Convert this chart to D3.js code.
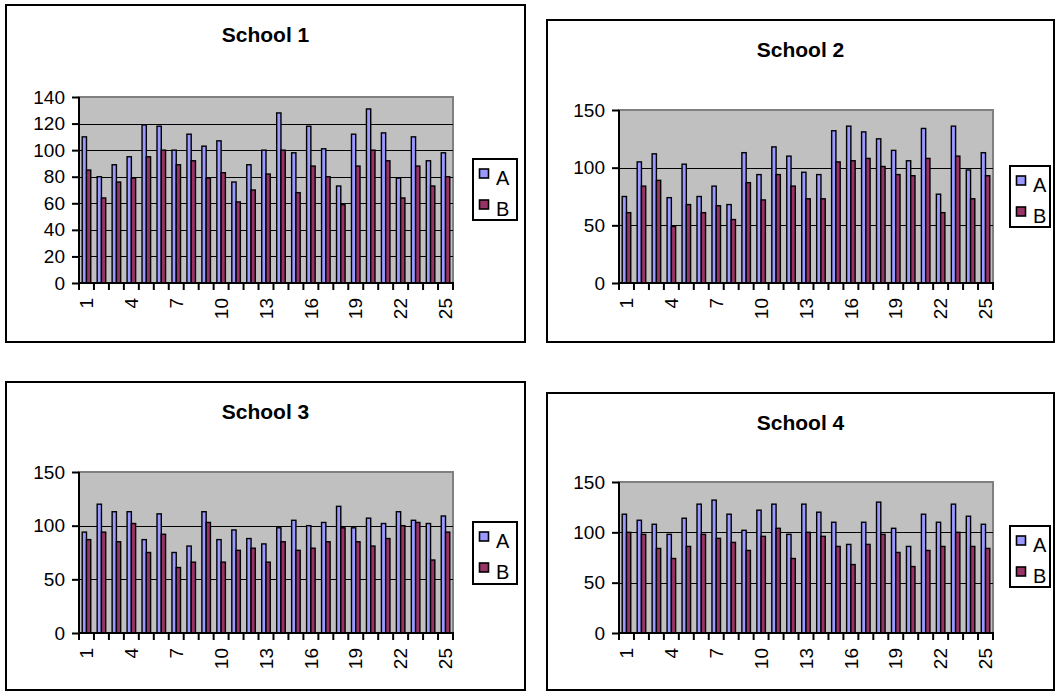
<!DOCTYPE html>
<html>
<head>
<meta charset="utf-8">
<script src="https://cdn.jsdelivr.net/npm/d3@7"></script>
<style>
  html, body { margin: 0; padding: 0; background: #fff; }
  svg { display: block; }
  text { font-family: Arial, "Liberation Sans", sans-serif; }
</style>
</head>
<body>
<svg id="chart" width="1057" height="692"></svg>
<script>
// ---- DATA ----
const categories = ["1","2","3","4","5","6","7","8","9","10","11","12","13","14","15","16","17","18","19","20","21","22","23","24","25"];
const seriesNames = ["A", "B"];
const schoolTitles = ["School 1", "School 2", "School 3", "School 4"];

const school1A = [110,80,89,95,119,118,100,112,103,107,76,89,100,128,98,118,101,73,112,131,113,79,110,92,98];
const school1B = [85,64,76,79,95,100,89,92,79,83,61,70,82,100,68,88,80,59,88,100,92,64,88,73,80];
const school2A = [75,105,112,74,103,75,84,68,113,94,118,110,96,94,132,136,131,125,115,106,134,77,136,98,113];
const school2B = [61,84,89,49,68,61,67,55,87,72,94,84,73,73,105,106,108,101,94,93,108,61,110,73,93];
const school3A = [94,120,113,113,87,111,75,81,113,87,96,88,83,98,105,100,103,118,98,107,102,113,105,102,109];
const school3B = [87,94,85,102,75,92,61,66,103,66,77,79,66,85,77,79,85,98,85,81,88,100,103,68,94];
const school4A = [118,112,108,98,114,128,132,118,102,122,128,98,128,120,110,88,110,130,104,86,118,110,128,116,108];
const school4B = [100,98,84,74,86,98,94,90,82,96,104,74,100,96,86,68,88,98,80,66,82,86,100,86,84];

const yTicks1 = [0,20,40,60,80,100,120,140];
const yTicks234 = [0,50,100,150];
const xTickLabels = ["1","4","7","10","13","16","19","22","25"];

const seriesColors = ["#9999FF", "#993366"];

// ---- LAYOUT ----
const layouts = [
  { box:[6,5,525,342],    plot:[79,97,453,283],   legend:[473,159,517,220], titleY:42 },
  { box:[547,20,1054,342], plot:[619,110,993,283], legend:[1010,166,1050,227], titleY:57 },
  { box:[6,382,525,690],  plot:[79,472,453,633],  legend:[473,522,517,584], titleY:419 },
  { box:[547,393,1054,690], plot:[619,482,993,633], legend:[1010,526,1050,587], titleY:430 }
];
const dataSets = [
  [school1A, school1B, yTicks1],
  [school2A, school2B, yTicks234],
  [school3A, school3B, yTicks234],
  [school4A, school4B, yTicks234]
];

const svg = d3.select("#chart");
const FONT = 19;

layouts.forEach((L, k) => {
  const [aVals, bVals, yTicks] = dataSets[k];
  const g = svg.append("g");
  const [bx0, by0, bx1, by1] = L.box;
  const [px0, py0, px1, py1] = L.plot;

  // chart box
  g.append("rect").attr("x", bx0).attr("y", by0)
    .attr("width", bx1 - bx0).attr("height", by1 - by0)
    .attr("fill", "#fff").attr("stroke", "#000").attr("stroke-width", 2);

  // title
  g.append("text").attr("x", (bx0 + bx1) / 2).attr("y", L.titleY)
    .attr("text-anchor", "middle").attr("font-weight", "bold")
    .attr("font-size", 21).text(schoolTitles[k]);

  const x = d3.scaleBand().domain(categories).range([px0, px1])
    .paddingInner(0.4286).paddingOuter(0.2143);
  const x1 = d3.scaleBand().domain(seriesNames).range([0, x.bandwidth()]);
  const y = d3.scaleLinear().domain([0, d3.max(yTicks)]).range([py1, py0]);

  // plot area background
  g.append("rect").attr("x", px0).attr("y", py0)
    .attr("width", px1 - px0).attr("height", py1 - py0)
    .attr("fill", "#C0C0C0").attr("stroke", "#808080").attr("stroke-width", 2);

  // gridlines
  g.append("g").selectAll("line").data(yTicks.filter(t => t > 0 && t < d3.max(yTicks)))
    .join("line")
    .attr("x1", px0).attr("x2", px1)
    .attr("y1", d => Math.round(y(d)) + 0.5).attr("y2", d => Math.round(y(d)) + 0.5)
    .attr("stroke", "#000").attr("stroke-width", 1);

  // bars
  const rows = categories.map((c, i) => ({ cat: c, vals: [aVals[i], bVals[i]] }));
  const grp = g.append("g").selectAll("g").data(rows).join("g")
    .attr("transform", d => `translate(${x(d.cat)},0)`);
  grp.selectAll("rect").data(d => d.vals.map((v, j) => ({ s: seriesNames[j], v, j })))
    .join("rect")
    .attr("x", d => x1(d.s))
    .attr("y", d => y(d.v))
    .attr("width", x1.bandwidth())
    .attr("height", d => y(0) - y(d.v))
    .attr("fill", d => seriesColors[d.j])
    .attr("stroke", "#000").attr("stroke-width", 1.4);

  // y axis
  const yAxis = d3.axisLeft(y).tickValues(yTicks).tickSize(7).tickPadding(7);
  const ya = g.append("g").attr("transform", `translate(${px0},0)`).call(yAxis);
  ya.select(".domain").attr("stroke", "#000").attr("stroke-width", 2)
    .attr("d", `M0,${py0}V${py1}`);
  ya.selectAll(".tick line").attr("stroke", "#000").attr("stroke-width", 2);
  ya.selectAll(".tick text").attr("font-size", FONT).attr("fill", "#000")
    .style("font-family", "Arial, 'Liberation Sans', sans-serif");

  // x axis: ticks between categories
  const step = x.step();
  const boundaries = d3.range(categories.length + 1).map(i => px0 + i * step);
  g.append("g").selectAll("line").data(boundaries).join("line")
    .attr("x1", d => d).attr("x2", d => d)
    .attr("y1", py1).attr("y2", py1 + 7)
    .attr("stroke", "#000").attr("stroke-width", 2);
  g.append("line").attr("x1", px0 - 1).attr("x2", px1 + 1)
    .attr("y1", py1).attr("y2", py1)
    .attr("stroke", "#000").attr("stroke-width", 2);

  g.append("g").selectAll("text").data(xTickLabels).join("text")
    .attr("transform", d => `translate(${x(d) + x.bandwidth() / 2},${py1 + 15}) rotate(-90)`)
    .attr("text-anchor", "end").attr("dy", "0.35em")
    .attr("font-size", FONT).text(d => d);

  // legend
  const [lx0, ly0, lx1, ly1] = L.legend;
  const lg = g.append("g");
  lg.append("rect").attr("x", lx0).attr("y", ly0)
    .attr("width", lx1 - lx0).attr("height", ly1 - ly0)
    .attr("fill", "#fff").attr("stroke", "#000").attr("stroke-width", 2);
  seriesNames.forEach((s, j) => {
    lg.append("rect").attr("x", lx0 + 6.5).attr("y", ly0 + 10 + j * 31)
      .attr("width", 9).attr("height", 9)
      .attr("fill", seriesColors[j]).attr("stroke", "#000").attr("stroke-width", 1.6);
    lg.append("text").attr("x", lx0 + 23).attr("y", ly0 + 26 + j * 31)
      .attr("font-size", 20).text(s);
  });
});
</script>
</body>
</html>
